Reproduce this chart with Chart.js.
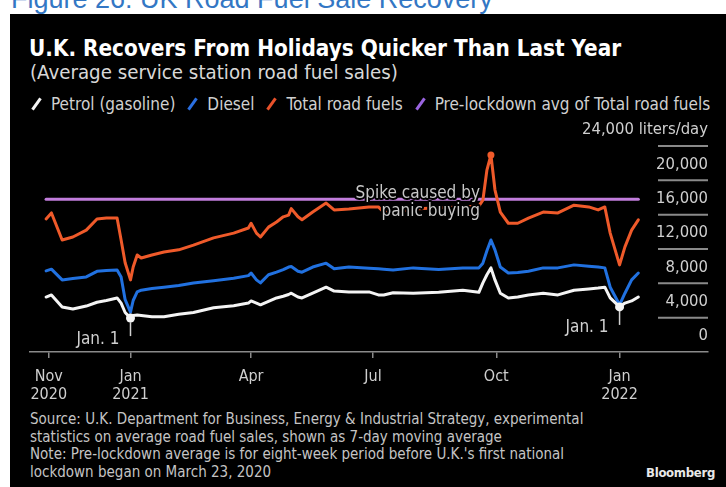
<!DOCTYPE html>
<html>
<head>
<meta charset="utf-8">
<script src="https://cdn.jsdelivr.net/npm/chart.js@4"></script>
<style>
  body { margin: 0; width: 726px; height: 487px; background: #fff; position: relative; overflow: hidden;
         font-family: "DejaVu Sans Condensed", "DejaVu Sans", sans-serif; font-stretch: condensed; }
  #caption { position: absolute; left: 11px; top: -14px; font: 27px "Liberation Sans", Arial, sans-serif;
             color: #3377c4; line-height: 27px; white-space: nowrap; font-stretch: normal; }
  #panel { position: absolute; left: 10px; top: 14px; right: 0; bottom: 0; background: #000; }
  .txt { position: absolute; white-space: nowrap; }
  #title { left: 29px; top: 36px; font-size: 22.3px; font-weight: bold; color: #fff; line-height: 24px; }
  #subtitle { left: 30px; top: 60px; font-size: 20.3px; color: #d8d8d8; line-height: 24px; }
  #legend { left: 31px; top: 93px; font-size: 17px; color: #d0d0d0; line-height: 22px; }
  #legend .sw { display: inline-block; width: 3px; height: 14px; transform: rotate(35deg);
                margin: 0 13px 0 4px; vertical-align: -1px; }
  #legend .item { margin-right: 12px; }
  #footer { left: 30px; top: 411px; font-size: 15px; color: #c4c4c4; line-height: 17.7px; }
  #brand { right: 11px; top: 465px; font-size: 13px; font-weight: bold; color: #e8e8e8; letter-spacing: -0.3px; }
  canvas { position: absolute; left: 0; top: 0; }
</style>
</head>
<body>
<div id="caption">Figure 26: UK Road Fuel Sale Recovery</div>
<div id="panel"></div>
<div class="txt" id="title">U.K. Recovers From Holidays Quicker Than Last Year</div>
<div class="txt" id="subtitle">(Average service station road fuel sales)</div>
<div class="txt" id="legend"></div>
<div class="txt" id="footer">Source: U.K. Department for Business, Energy &amp; Industrial Strategy, experimental<br>statistics on average road fuel sales, shown as 7-day moving average<br>Note: Pre-lockdown average is for eight-week period before U.K.'s first national<br>lockdown began on March 23, 2020</div>
<div class="txt" id="brand">Bloomberg</div>
<canvas id="chart" width="726" height="487"></canvas>
<script>
// 7-day moving average, litres per station per day
const dates = ['2020-10-30','2020-11-03','2020-11-11','2020-11-19','2020-11-29','2020-12-07','2020-12-14','2020-12-22','2020-12-25','2020-12-28',
  '2021-01-01','2021-01-03','2021-01-06','2021-01-09','2021-01-17','2021-01-26','2021-02-06','2021-02-17','2021-03-04','2021-03-19',
  '2021-03-30','2021-04-01','2021-04-05','2021-04-08','2021-04-14','2021-04-20','2021-04-25','2021-04-29','2021-05-01','2021-05-06',
  '2021-05-09','2021-05-17','2021-05-27','2021-06-02','2021-06-13','2021-06-28','2021-07-05','2021-07-09','2021-07-16','2021-07-31',
  '2021-08-19','2021-09-06','2021-09-18','2021-09-21','2021-09-24','2021-09-27','2021-09-30','2021-10-04','2021-10-10','2021-10-17',
  '2021-10-25','2021-11-05','2021-11-16','2021-11-28','2021-12-09','2021-12-16','2021-12-21','2021-12-25','2022-01-01','2022-01-05',
  '2022-01-10','2022-01-15'];
const petrol = [6400,6650,5250,5000,5350,5800,6000,6300,5700,4600,
  3950,4250,4300,4250,4100,4100,4400,4600,5150,5400,
  5700,5950,5700,5500,5900,6300,6500,6700,6850,6400,
  6300,6850,7550,7100,7000,7000,6650,6650,6900,6850,
  6950,7200,6950,8050,9000,9800,8400,6850,6300,6400,
  6650,6850,6650,7200,7350,7450,7550,6300,5250,5700,
  5950,6400];
const diesel = [9450,9650,8400,8550,8750,9400,9500,9550,8750,6100,
  4650,6000,7000,7200,7400,7550,7750,8050,8300,8600,
  8900,9200,8400,8050,9000,9300,9600,9900,9950,9400,
  9300,9900,10350,9700,9900,9750,9700,9650,9550,9800,
  9600,9800,9800,10350,11800,13050,11900,9900,9200,9250,
  9400,9800,9800,10150,10000,9900,9800,7550,5500,6850,
  8400,9200];
const total = [15500,16200,13050,13400,14200,15500,15600,15600,13050,10400,
  8400,9900,11300,10950,11300,11650,11900,12450,13300,13850,
  14450,15000,13850,13400,14550,15150,15750,15950,16700,15750,
  15400,16300,17350,16550,16650,16900,16900,16300,16200,16650,
  16800,16900,17000,17700,21200,22950,18900,16300,15000,15000,
  15600,16300,16200,17100,16900,16550,16900,13850,10150,12250,
  14200,15400];
const preLockdownAvg = 17800;

const seriesNames = ['Petrol (gasoline)', 'Diesel', 'Total road fuels', 'Pre-lockdown avg of Total road fuels'];
const seriesColors = ['#f4f4f4', '#2171e0', '#ef5a2a', '#c17ddc'];
const swatchColors = ['#f4f4f4', '#2a6fe0', '#e8512a', '#9a64e0'];

const xTickDates = ['2020-11-01','2021-01-01','2021-04-01','2021-07-01','2021-10-01','2022-01-01'];
const xTickLabels = [['Nov','2020'], ['Jan','2021'], 'Apr', 'Jul', 'Oct', ['Jan','2022']];
const yTicks = [0, 4000, 8000, 12000, 16000, 20000, 24000];
const yUnit = ' liters/day';

const holidayDates = ['2021-01-01', '2022-01-01'];
const spikeDate = '2021-09-27';

const FONT = '"DejaVu Sans Condensed", "DejaVu Sans", sans-serif';

const origin = Date.UTC(2020, 10, 1);
function dayOf(s) {
  const p = s.split('-');
  return (Date.UTC(+p[0], +p[1] - 1, +p[2]) - origin) / 864e5;
}
function pts(vals) {
  return vals.map((v, i) => ({ x: dayOf(dates[i]), y: v }));
}

// legend
const legend = document.getElementById('legend');
seriesNames.forEach((n, i) => {
  const s = document.createElement('span');
  s.className = 'item';
  s.innerHTML = '<span class="sw" style="background:' + swatchColors[i] + '"></span>' + n;
  legend.appendChild(s);
});

const fmt = v => v.toLocaleString('en-US');

const overlay = {
  id: 'overlay',
  afterDatasetsDraw(chart) {
    const { ctx } = chart;
    const x = chart.scales.x, y = chart.scales.y;
    ctx.save();
    ctx.font = '17px ' + FONT;
    ctx.lineJoin = 'round';

    // holiday markers
    holidayDates.forEach(d => {
      const i = dates.indexOf(d);
      const px = x.getPixelForValue(dayOf(d));
      const py = y.getPixelForValue(petrol[i]);
      ctx.strokeStyle = '#d0d0d0';
      ctx.lineWidth = 1.5;
      ctx.beginPath();
      ctx.moveTo(px, py + 4);
      ctx.lineTo(px, py + 18);
      ctx.stroke();
      ctx.fillStyle = '#d0d0d0';
      ctx.textAlign = 'right';
      ctx.textBaseline = 'middle';
      ctx.fillText('Jan. 1', px - 11, py + 21);
    });

    // spike note
    const sx = x.getPixelForValue(dayOf(spikeDate));
    const ay = y.getPixelForValue(preLockdownAvg);
    ctx.textAlign = 'right';
    ctx.textBaseline = 'middle';
    ctx.strokeStyle = '#000';
    ctx.lineWidth = 4;
    ctx.fillStyle = '#c8c8c8';
    [['Spike caused by', -6], ['panic buying', 12]].forEach(([t, dy]) => {
      ctx.strokeText(t, sx - 11, ay + dy);
      ctx.fillText(t, sx - 11, ay + dy);
    });
    ctx.restore();
  },
  afterDraw(chart) {
    const { ctx, chartArea } = chart;
    const y = chart.scales.y;
    ctx.save();
    ctx.font = '16.5px ' + FONT;
    ctx.fillStyle = '#cfcfcf';
    ctx.strokeStyle = '#8a8a8a';
    ctx.lineWidth = 2;
    ctx.textAlign = 'right';
    ctx.textBaseline = 'middle';
    yTicks.forEach(v => {
      const py = y.getPixelForValue(v);
      if (v > 0) {
        ctx.beginPath();
        ctx.moveTo(chartArea.right - 50, py);
        ctx.lineTo(chartArea.right, py);
        ctx.stroke();
      }
      const label = v === yTicks[yTicks.length - 1] ? fmt(v) + yUnit : fmt(v);
      ctx.fillText(label, chartArea.right, py - 16);
    });
    ctx.restore();
  }
};

new Chart(document.getElementById('chart'), {
  type: 'line',
  data: {
    datasets: [{
      label: seriesNames[0],
      data: pts(petrol),
      borderColor: seriesColors[0],
      backgroundColor: seriesColors[0],
      borderWidth: 3,
      pointRadius: dates.map(d => holidayDates.includes(d) ? 4.5 : 0),
      pointBorderWidth: 0,
      order: 1
    },
    {
      label: seriesNames[1],
      data: pts(diesel),
      borderColor: seriesColors[1],
      backgroundColor: seriesColors[1],
      borderWidth: 3,
      pointRadius: 0,
      order: 2
    },
    {
      label: seriesNames[2],
      data: pts(total),
      borderColor: seriesColors[2],
      backgroundColor: seriesColors[2],
      borderWidth: 3,
      pointRadius: dates.map(d => d === spikeDate ? 3.5 : 0),
      pointBorderWidth: 0,
      order: 3
    },
    {
      label: seriesNames[3],
      data: [{ x: dayOf(dates[0]), y: preLockdownAvg }, { x: dayOf(dates[dates.length - 1]), y: preLockdownAvg }],
      borderColor: seriesColors[3],
      backgroundColor: seriesColors[3],
      borderWidth: 3,
      pointRadius: 0,
      order: 4
    }]
  },
  options: {
    responsive: false,
    animation: false,
    devicePixelRatio: 1,
    layout: { padding: { left: 30, right: 18, top: 146, bottom: 85 } },
    plugins: { legend: { display: false }, tooltip: { enabled: false } },
    elements: { line: { tension: 0, borderJoinStyle: 'round', borderCapStyle: 'round' } },
    scales: {
      x: {
        type: 'linear',
        min: -14,
        max: 492,
        afterBuildTicks: s => { s.ticks = xTickDates.map(d => ({ value: dayOf(d) })); },
        afterFit: s => { s.height = 50; },
        grid: { drawOnChartArea: false, color: '#8a8a8a', tickLength: 6, lineWidth: 1.5 },
        border: { color: '#8a8a8a', width: 1.5 },
        ticks: {
          autoSkip: false,
          maxRotation: 0,
          padding: 10,
          color: '#cfcfcf',
          font: { family: FONT, size: 16, lineHeight: 1.1 },
          callback: (v, i) => xTickLabels[i]
        }
      },
      y: {
        display: false,
        min: 0,
        max: 24000
      }
    }
  },
  plugins: [overlay]
});
</script>
</body>
</html>
